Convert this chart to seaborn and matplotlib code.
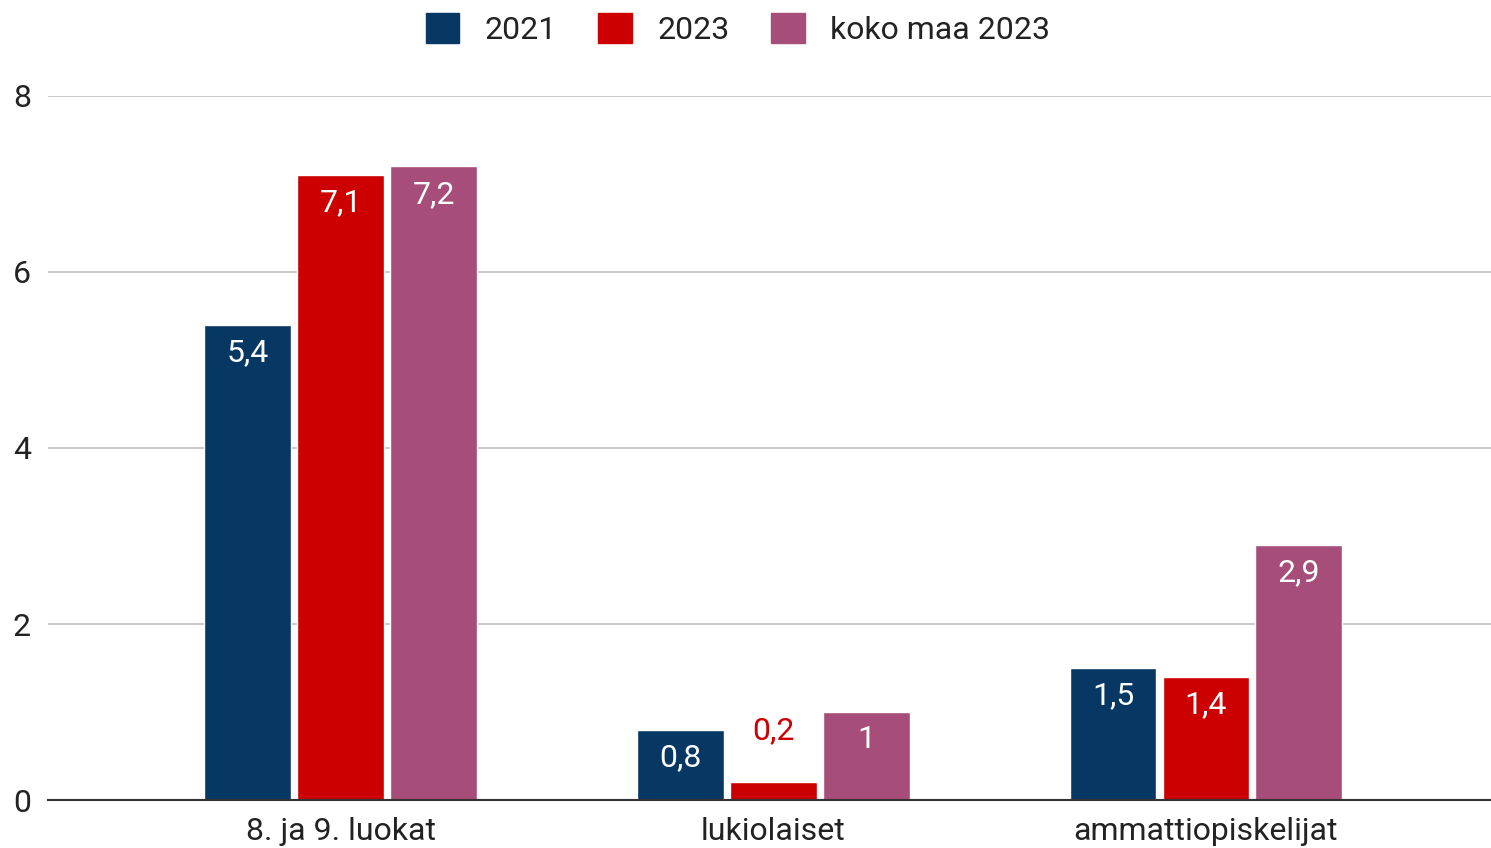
import numpy as np
import pandas as pd
import matplotlib
matplotlib.use('Agg')
import matplotlib.pyplot as plt
import seaborn as sns

categories = ['8. ja 9. luokat', 'lukiolaiset', 'ammattiopiskelijat']
series = ['2021', '2023', 'koko maa 2023']
v2021 = [5.4, 0.8, 1.5]
v2023 = [7.1, 0.2, 1.4]
v_koko = [7.2, 1.0, 2.9]
colors = ['#073763', '#cc0000', '#a64d79']

df = pd.DataFrame({
    'Ryhmä': categories * 3,
    'Sarja': np.repeat(series, len(categories)),
    'Arvo': v2021 + v2023 + v_koko,
})

sns.set_style('white')
plt.rcParams['font.family'] = ['Roboto', 'DejaVu Sans']
text_color = '#222222'
fs = 23

fig = plt.figure(figsize=(14.91, 8.48), dpi=100)
ax = fig.add_axes([0.032, 0.0566, 0.968, 0.8302])

sns.barplot(data=df, x='Ryhmä', y='Arvo', hue='Sarja', palette=colors,
            width=0.645, gap=0.065, ax=ax, legend=False, saturation=1)

def fmt(v):
    s = f'{v:.1f}'.replace('.', ',')
    return s[:-2] if s.endswith(',0') else s

# arvot palkkien sisään, matalalle palkille yläpuolelle
for container, col in zip(ax.containers, colors):
    for bar in container:
        h = bar.get_height()
        xc = bar.get_x() + bar.get_width() / 2
        if h < 0.5:
            ax.annotate(fmt(h), (xc, h), xytext=(0, 37), textcoords='offset points',
                        ha='center', va='center', color=col, fontsize=fs)
        else:
            ax.annotate(fmt(h), (xc, h), xytext=(0, -20), textcoords='offset points',
                        ha='center', va='center', color='white', fontsize=fs)

ax.set_ylim(0, 8)
ax.set_xlim(-0.678, 2.659)
ax.set_yticks([0, 2, 4, 6, 8])
ax.yaxis.grid(True, color='#cccccc', linewidth=1.5)
ax.set_axisbelow(True)
for s in ['top', 'right', 'left']:
    ax.spines[s].set_visible(False)
ax.spines['bottom'].set_color('#333333')
ax.spines['bottom'].set_linewidth(1.5)
ax.tick_params(axis='both', length=0, labelsize=fs, colors=text_color)
ax.tick_params(axis='x', pad=12)
ax.tick_params(axis='y', pad=12)
ax.set_xlabel('')
ax.set_ylabel('')

handles = [plt.Rectangle((0, 0), 1, 1, color=c) for c in colors]
fig.legend(handles, series, loc='upper center', bbox_to_anchor=(0.495, 1.018), ncol=3,
           frameon=False, fontsize=fs, handlelength=1.05, handleheight=1.05,
           handletextpad=0.8, columnspacing=1.3, labelcolor=text_color)

fig.savefig('out.png', dpi=100)
